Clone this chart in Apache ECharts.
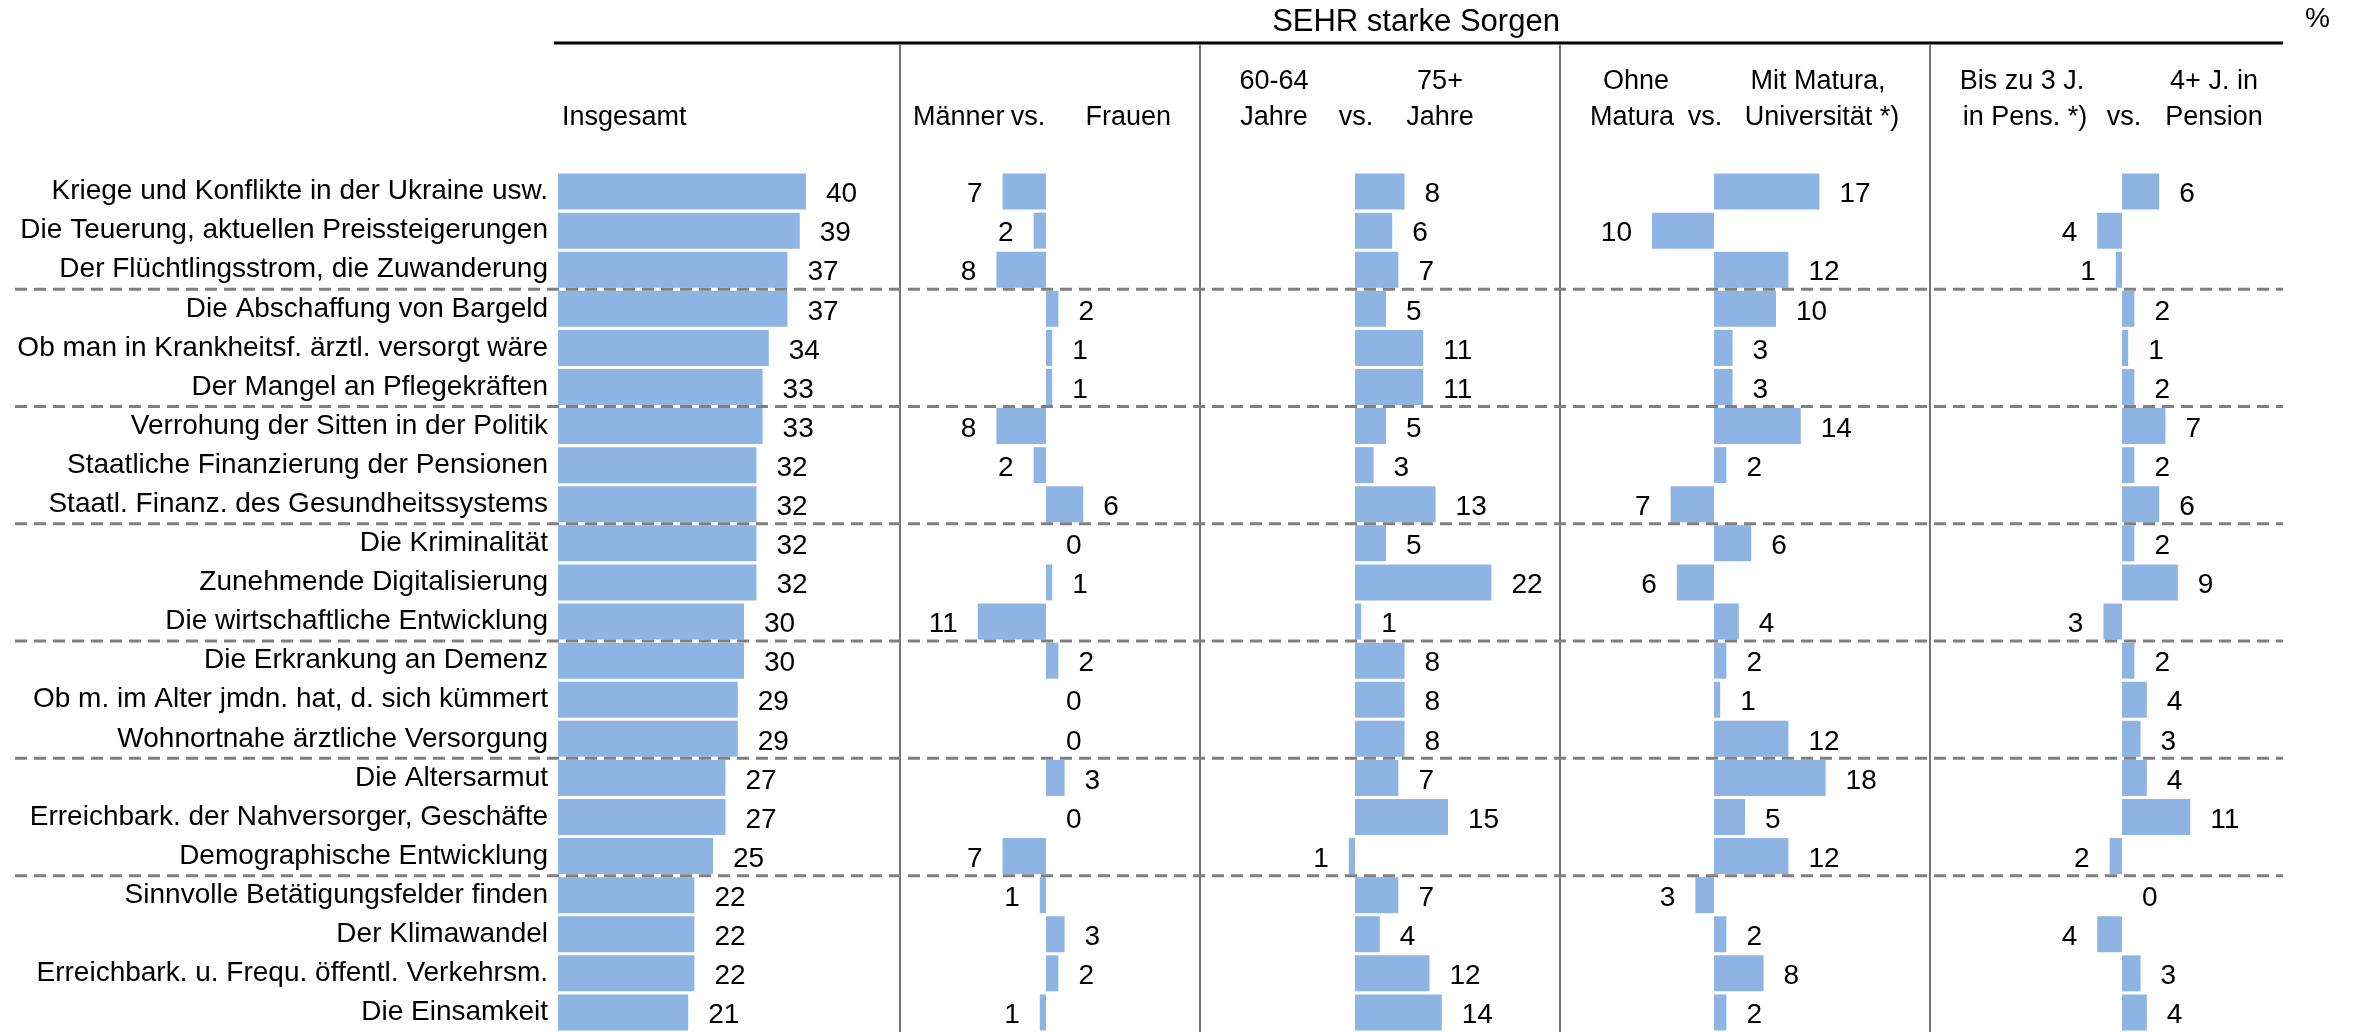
<!DOCTYPE html>
<html><head><meta charset="utf-8">
<script src="https://cdn.jsdelivr.net/npm/echarts/dist/echarts.min.js"></script>
<style>html,body{margin:0;padding:0;background:#fff}#c{width:2358px;height:1032px}</style>
</head><body><div id="c"></div>
<script>
// ---------- data ----------
const categories = [
  'Kriege und Konflikte in der Ukraine usw.',
  'Die Teuerung, aktuellen Preissteigerungen',
  'Der Flüchtlingsstrom, die Zuwanderung',
  'Die Abschaffung von Bargeld',
  'Ob man in Krankheitsf. ärztl. versorgt wäre',
  'Der Mangel an Pflegekräften',
  'Verrohung der Sitten in der Politik',
  'Staatliche Finanzierung der Pensionen',
  'Staatl. Finanz. des Gesundheitssystems',
  'Die Kriminalität',
  'Zunehmende Digitalisierung',
  'Die wirtschaftliche Entwicklung',
  'Die Erkrankung an Demenz',
  'Ob m. im Alter jmdn. hat, d. sich kümmert',
  'Wohnortnahe ärztliche Versorgung',
  'Die Altersarmut',
  'Erreichbark. der Nahversorger, Geschäfte',
  'Demographische Entwicklung',
  'Sinnvolle Betätigungsfelder finden',
  'Der Klimawandel',
  'Erreichbark. u. Frequ. öffentl. Verkehrsm.',
  'Die Einsamkeit'
];
// Insgesamt
const insgesamt = [40, 39, 37, 37, 34, 33, 33, 32, 32, 32, 32, 30, 30, 29, 29, 27, 27, 25, 22, 22, 22, 21];
// differences: negative = left group (Männer) higher, positive = right group (Frauen) higher
const maennerFrauen = [-7, -2, -8, 2, 1, 1, -8, -2, 6, 0, 1, -11, 2, 0, 0, 3, 0, -7, -1, 3, 2, -1];
// negative = 60-64 Jahre higher, positive = 75+ Jahre higher
const alter = [8, 6, 7, 5, 11, 11, 5, 3, 13, 5, 22, 1, 8, 8, 8, 7, 15, -1, 7, 4, 12, 14];
// negative = Ohne Matura higher, positive = Mit Matura/Universität higher
const bildung = [17, -10, 12, 10, 3, 3, 14, 2, -7, 6, -6, 4, 2, 1, 12, 18, 5, 12, -3, 2, 8, 2];
// negative = bis zu 3 J. in Pension higher, positive = 4+ J. in Pension higher
const pension = [6, -4, -1, 2, 1, 2, 7, 2, 6, 2, 9, -3, 2, 4, 3, 4, 11, -2, 0, -4, 3, 4];
// group boundaries (dashed lines) after these category counts
const groupBreaks = [3, 6, 9, 12, 15, 18];

const titleText = 'SEHR starke Sorgen';
const unitText = '%';
const headerLabels = [
  ['Insgesamt'],
  ['Männer', 'vs.', 'Frauen'],
  ['60-64', 'Jahre', 'vs.', '75+', 'Jahre'],
  ['Ohne', 'Matura', 'vs.', 'Mit Matura,', 'Universität *)'],
  ['Bis zu 3 J.', 'in Pens. *)', 'vs.', '4+ J. in', 'Pension']
];

// ---------- layout ----------
const FONT_FAMILY = '"Liberation Sans", Arial, sans-serif';
const FS = 28, HFS = 27;
const UNIT = 6.2;          // px per percentage point
const TOP = 172, HEIGHT = 860;
const BAR_COLOR = '#8EB4E3';

const panels = [
  { data: insgesamt,     zero: 558,  min: 0,   max: 45 },
  { data: maennerFrauen, zero: 1046, min: -15, max: 10 },
  { data: alter,         zero: 1355, min: -5,  max: 25 },
  { data: bildung,       zero: 1714, min: -15, max: 20 },
  { data: pension,       zero: 2122, min: -10, max: 15 }
];

const grids = [], xAxes = [], yAxes = [], series = [];
panels.forEach((p, i) => {
  grids.push({ left: p.zero + p.min * UNIT, width: (p.max - p.min) * UNIT, top: TOP, height: HEIGHT, containLabel: false });
  xAxes.push({ gridIndex: i, type: 'value', min: p.min, max: p.max, show: false });
  yAxes.push({
    gridIndex: i, type: 'category', inverse: true, data: categories,
    axisLine: { show: false }, axisTick: { show: false }, splitLine: { show: false },
    axisLabel: i === 0 ? { show: true, margin: 10, fontSize: FS, color: '#000', fontFamily: FONT_FAMILY } : { show: false }
  });
  series.push({
    type: 'bar', xAxisIndex: i, yAxisIndex: i, barWidth: 36,
    itemStyle: { color: BAR_COLOR },
    label: {
      show: true, distance: 20, offset: [0, 3], fontSize: FS, color: '#000', fontFamily: FONT_FAMILY,
      formatter: (q) => String(Math.abs(q.value))
    },
    data: p.data.map(v => ({ value: v, label: { position: v < 0 ? 'left' : 'right' } }))
  });
});

// ---------- decorations ----------
function txt(text, x, y, align, size) {
  return { type: 'text', x: x, y: y, z: 10,
    style: { text: text, font: (size || HFS) + 'px ' + FONT_FAMILY, fill: '#000', textAlign: align, textVerticalAlign: 'middle' } };
}
const Y1 = 82, Y2 = 118;
const graphics = [
  { type: 'line', shape: { x1: 554, y1: 43, x2: 2283, y2: 43 }, style: { stroke: '#000', lineWidth: 3 } },
  ...[900, 1200, 1560, 1930].map(x => ({ type: 'line', shape: { x1: x, y1: 44, x2: x, y2: 1032 }, style: { stroke: '#737373', lineWidth: 2 } })),
  txt(titleText, 1416, 22, 'center', 31),
  txt(unitText, 2305, 19, 'left', 28),
  txt(headerLabels[0][0], 562, Y2, 'left'),
  txt(headerLabels[1][0], 913, Y2, 'left'),
  txt(headerLabels[1][1], 1028, Y2, 'center'),
  txt(headerLabels[1][2], 1171, Y2, 'right'),
  txt(headerLabels[2][0], 1274, Y1, 'center'),
  txt(headerLabels[2][1], 1274, Y2, 'center'),
  txt(headerLabels[2][2], 1356, Y2, 'center'),
  txt(headerLabels[2][3], 1440, Y1, 'center'),
  txt(headerLabels[2][4], 1440, Y2, 'center'),
  txt(headerLabels[3][0], 1636, Y1, 'center'),
  txt(headerLabels[3][1], 1632, Y2, 'center'),
  txt(headerLabels[3][2], 1705, Y2, 'center'),
  txt(headerLabels[3][3], 1818, Y1, 'center'),
  txt(headerLabels[3][4], 1822, Y2, 'center'),
  txt(headerLabels[4][0], 2022, Y1, 'center'),
  txt(headerLabels[4][1], 2025, Y2, 'center'),
  txt(headerLabels[4][2], 2124, Y2, 'center'),
  txt(headerLabels[4][3], 2214, Y1, 'center'),
  txt(headerLabels[4][4], 2214, Y2, 'center')
];

const chart = echarts.init(document.getElementById('c'), null, { renderer: 'canvas' });
chart.setOption({
  animation: false,
  backgroundColor: '#fff',
  textStyle: { fontFamily: FONT_FAMILY },
  grid: grids, xAxis: xAxes, yAxis: yAxes, series: series,
  graphic: graphics
});

// dashed group separators, positioned through the category axis scale
const dashed = groupBreaks.map(k => {
  const ya = chart.convertToPixel({ yAxisIndex: 0 }, categories[k - 1]);
  const yb = chart.convertToPixel({ yAxisIndex: 0 }, categories[k]);
  const y = (ya + yb) / 2;
  return { type: 'line', z: 5, shape: { x1: 15, y1: y, x2: 2283, y2: y },
    style: { stroke: '#808080', lineWidth: 3, lineDash: [12, 7] } };
});
chart.setOption({ graphic: graphics.concat(dashed) });
</script></body></html>
